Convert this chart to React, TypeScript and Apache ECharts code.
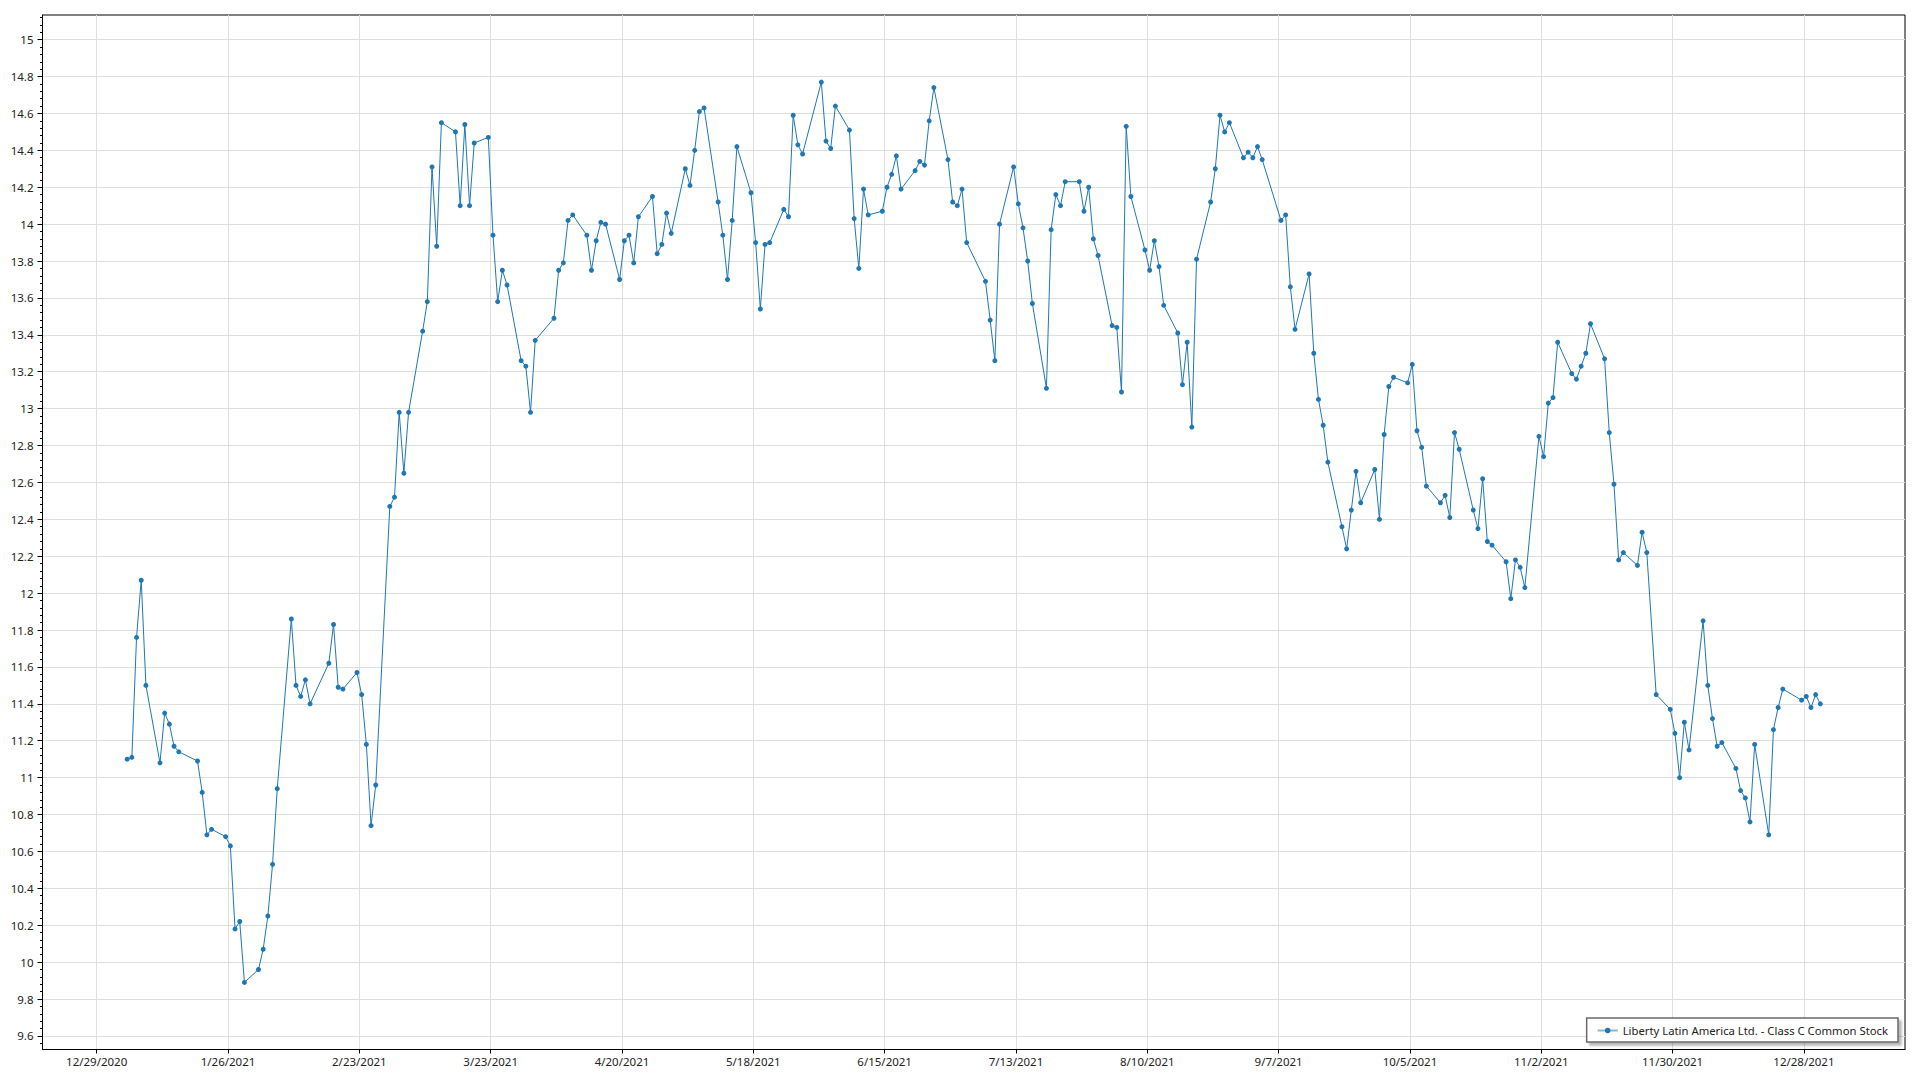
import React, { useEffect, useRef } from "react";
import * as echarts from "echarts";

const seriesName = "Liberty Latin America Ltd. - Class C Common Stock";
const dataYear = 2021;

// Trading days of 2021 (M/D)
const tradeDays: string[] = [
  // Jan
  "1/4", "1/5", "1/6", "1/7", "1/8", "1/11", "1/12", "1/13", "1/14", "1/15",
  "1/19", "1/20", "1/21", "1/22", "1/25", "1/26", "1/27", "1/28", "1/29",
  // Feb
  "2/1", "2/2", "2/3", "2/4", "2/5", "2/8", "2/9", "2/10", "2/11", "2/12",
  "2/16", "2/17", "2/18", "2/19", "2/22", "2/23", "2/24", "2/25", "2/26",
  // Mar
  "3/1", "3/2", "3/3", "3/4", "3/5", "3/8", "3/9", "3/10", "3/11", "3/12",
  "3/15", "3/16", "3/17", "3/18", "3/19", "3/22", "3/23", "3/24", "3/25", "3/26",
  "3/29", "3/30", "3/31",
  // Apr
  "4/1", "4/5", "4/6", "4/7", "4/8", "4/9", "4/12", "4/13", "4/14", "4/15", "4/16",
  "4/19", "4/20", "4/21", "4/22", "4/23", "4/26", "4/27", "4/28", "4/29", "4/30",
  // May
  "5/3", "5/4", "5/5", "5/6", "5/7", "5/10", "5/11", "5/12", "5/13", "5/14",
  "5/17", "5/18", "5/19", "5/20", "5/21", "5/24", "5/25", "5/26", "5/27", "5/28",
  // Jun
  "6/1", "6/2", "6/3", "6/4", "6/7", "6/8", "6/9", "6/10", "6/11", "6/14", "6/15",
  "6/16", "6/17", "6/18", "6/21", "6/22", "6/23", "6/24", "6/25", "6/28", "6/29", "6/30",
  // Jul
  "7/1", "7/2", "7/6", "7/7", "7/8", "7/9", "7/12", "7/13", "7/14", "7/15", "7/16",
  "7/19", "7/20", "7/21", "7/22", "7/23", "7/26", "7/27", "7/28", "7/29", "7/30",
  // Aug
  "8/2", "8/3", "8/4", "8/5", "8/6", "8/9", "8/10", "8/11", "8/12", "8/13", "8/16",
  "8/17", "8/18", "8/19", "8/20", "8/23", "8/24", "8/25", "8/26", "8/27", "8/30", "8/31",
  // Sep
  "9/1", "9/2", "9/3", "9/7", "9/8", "9/9", "9/10", "9/13", "9/14", "9/15", "9/16",
  "9/17", "9/20", "9/21", "9/22", "9/23", "9/24", "9/27", "9/28", "9/29", "9/30",
  // Oct
  "10/1", "10/4", "10/5", "10/6", "10/7", "10/8", "10/11", "10/12", "10/13", "10/14",
  "10/15", "10/18", "10/19", "10/20", "10/21", "10/22", "10/25", "10/26", "10/27",
  "10/28", "10/29",
  // Nov
  "11/1", "11/2", "11/3", "11/4", "11/5", "11/8", "11/9", "11/10", "11/11", "11/12",
  "11/15", "11/16", "11/17", "11/18", "11/19", "11/22", "11/23", "11/24", "11/26",
  "11/29", "11/30",
  // Dec
  "12/1", "12/2", "12/3", "12/6", "12/7", "12/8", "12/9", "12/10", "12/13", "12/14",
  "12/15", "12/16", "12/17", "12/20", "12/21", "12/22", "12/23", "12/27", "12/28",
  "12/29", "12/30", "12/31",
];

const closePrices: number[] = [
  // Jan
  11.10, 11.11, 11.76, 12.07, 11.50, 11.08, 11.35, 11.29, 11.17, 11.14,
  11.09, 10.92, 10.69, 10.72, 10.68, 10.63, 10.18, 10.22, 9.89,
  // Feb
  9.96, 10.07, 10.25, 10.53, 10.94, 11.86, 11.50, 11.44, 11.53, 11.40,
  11.62, 11.83, 11.49, 11.48, 11.57, 11.45, 11.18, 10.74, 10.96,
  // Mar
  12.47, 12.52, 12.98, 12.65, 12.98, 13.42, 13.58, 14.31, 13.88, 14.55,
  14.50, 14.10, 14.54, 14.10, 14.44, 14.47, 13.94, 13.58, 13.75, 13.67,
  13.26, 13.23, 12.98,
  // Apr
  13.37, 13.49, 13.75, 13.79, 14.02, 14.05, 13.94, 13.75, 13.91, 14.01, 14.00,
  13.70, 13.91, 13.94, 13.79, 14.04, 14.15, 13.84, 13.89, 14.06, 13.95,
  // May
  14.30, 14.21, 14.40, 14.61, 14.63, 14.12, 13.94, 13.70, 14.02, 14.42,
  14.17, 13.90, 13.54, 13.89, 13.90, 14.08, 14.04, 14.59, 14.43, 14.38,
  // Jun
  14.77, 14.45, 14.41, 14.64, 14.51, 14.03, 13.76, 14.19, 14.05, 14.07, 14.20,
  14.27, 14.37, 14.19, 14.29, 14.34, 14.32, 14.56, 14.74, 14.35, 14.12, 14.10,
  // Jul
  14.19, 13.90, 13.69, 13.48, 13.26, 14.00, 14.31, 14.11, 13.98, 13.80, 13.57,
  13.11, 13.97, 14.16, 14.10, 14.23, 14.23, 14.07, 14.20, 13.92, 13.83,
  // Aug
  13.45, 13.44, 13.09, 14.53, 14.15, 13.86, 13.75, 13.91, 13.77, 13.56, 13.41,
  13.13, 13.36, 12.90, 13.81, 14.12, 14.30, 14.59, 14.50, 14.55, 14.36, 14.39,
  // Sep
  14.36, 14.42, 14.35, 14.02, 14.05, 13.66, 13.43, 13.73, 13.30, 13.05, 12.91,
  12.71, 12.36, 12.24, 12.45, 12.66, 12.49, 12.67, 12.40, 12.86, 13.12,
  // Oct
  13.17, 13.14, 13.24, 12.88, 12.79, 12.58, 12.49, 12.53, 12.41, 12.87,
  12.78, 12.45, 12.35, 12.62, 12.28, 12.26, 12.17, 11.97, 12.18,
  12.14, 12.03,
  // Nov
  12.85, 12.74, 13.03, 13.06, 13.36, 13.19, 13.16, 13.23, 13.30, 13.46,
  13.27, 12.87, 12.59, 12.18, 12.22, 12.15, 12.33, 12.22, 11.45,
  11.37, 11.24,
  // Dec
  11.00, 11.30, 11.15, 11.85, 11.50, 11.32, 11.17, 11.19, 11.05, 10.93,
  10.89, 10.76, 11.18, 10.69, 11.26, 11.38, 11.48, 11.42, 11.44,
  11.38, 11.45, 11.40,
];

const xTickLabels: string[] = [
  "12/29/2020", "1/26/2021", "2/23/2021", "3/23/2021", "4/20/2021", "5/18/2021",
  "6/15/2021", "7/13/2021", "8/10/2021", "9/7/2021", "10/5/2021", "11/2/2021",
  "11/30/2021", "12/28/2021",
];

const yTickValues: number[] = [
  9.6, 9.8, 10, 10.2, 10.4, 10.6, 10.8, 11, 11.2, 11.4, 11.6, 11.8, 12,
  12.2, 12.4, 12.6, 12.8, 13, 13.2, 13.4, 13.6, 13.8, 14, 14.2, 14.4, 14.6, 14.8, 15,
];

const DAY = 86400000;
const FONT = "'Noto Sans', 'Open Sans', sans-serif";

function parseMDY(s: string): number {
  const [m, d, y] = s.split("/").map(Number);
  return Date.UTC(y, m - 1, d);
}

function fmtDate(v: number): string {
  const dt = new Date(Math.round(v));
  return `${dt.getUTCMonth() + 1}/${dt.getUTCDate()}/${dt.getUTCFullYear()}`;
}

export default function App() {
  const ref = useRef<HTMLDivElement>(null);

  useEffect(() => {
    if (!ref.current) return;
    const chart = echarts.init(ref.current, null, { renderer: "svg" });

    // points sit at mid-day of each trading date
    const points = tradeDays.map((d, i) => [
      parseMDY(`${d}/${dataYear}`) + DAY / 2,
      closePrices[i],
    ]);
    const xs = points.map((p) => p[0]);
    const ys = closePrices;
    const xMinData = Math.min(...xs);
    const xMaxData = Math.max(...xs);
    const xPad = (xMaxData - xMinData) * 0.05;
    const yMinData = Math.min(...ys);
    const yMaxData = Math.max(...ys);
    const yPad = (yMaxData - yMinData) * 0.0745;

    const xTicks = xTickLabels.map(parseMDY);

    const minorTicks: number[] = [];
    for (let i = 0; i < yTickValues.length; i++) {
      for (let k = -4; k <= 4; k++) {
        const v = Math.round((yTickValues[i] + k * 0.04) * 1000) / 1000;
        if (!minorTicks.includes(v) && !yTickValues.includes(v)) minorTicks.push(v);
      }
    }

    const yMin = yMinData - yPad;
    const yMax = yMaxData + yPad;

    chart.setOption({
      animation: false,
      backgroundColor: "#ffffff",
      textStyle: { fontFamily: FONT },
      grid: {
        left: 42.5,
        right: 15,
        top: 15,
        bottom: 30.5,
        show: true,
        borderColor: "#000000",
        borderWidth: 1,
        backgroundColor: "transparent",
      },
      legend: {
        show: true,
        right: 22,
        bottom: 38,
        orient: "horizontal",
        backgroundColor: "#ffffff",
        borderColor: "#6a6a6a",
        borderWidth: 1.5,
        borderRadius: 0,
        padding: [7, 10, 6, 10],
        itemWidth: 20,
        itemHeight: 7,
        shadowColor: "rgba(0,0,0,0.28)",
        shadowBlur: 2,
        shadowOffsetX: 3,
        shadowOffsetY: 3,
        lineStyle: { color: "rgba(31,119,180,0.55)", width: 2 },
        textStyle: { fontFamily: FONT, fontSize: 11.3, color: "#222222" },
        data: [{ name: seriesName }],
      },
      xAxis: {
        type: "value",
        min: xMinData - xPad,
        max: xMaxData + xPad,
        axisLine: { show: true, lineStyle: { color: "#000000", width: 1 } },
        axisTick: {
          show: true,
          length: 4,
          inside: false,
          customValues: xTicks,
          lineStyle: { color: "#000000", width: 1 },
        },
        axisLabel: {
          show: true,
          customValues: xTicks,
          formatter: (v: number) => fmtDate(v),
          fontFamily: FONT,
          fontSize: 11.5,
          color: "#222222",
          margin: 6,
        },
        splitLine: { show: true, lineStyle: { color: "#dedede", width: 1 } },
      },
      yAxis: [
        {
          type: "value",
          min: yMin,
          max: yMax,
          axisLine: { show: true, lineStyle: { color: "#000000", width: 1 } },
          axisTick: {
            show: true,
            length: 5,
            inside: false,
            customValues: yTickValues,
            lineStyle: { color: "#000000", width: 1 },
          },
          axisLabel: {
            show: true,
            customValues: yTickValues,
            formatter: (v: number) => String(parseFloat(v.toFixed(1))),
            fontFamily: FONT,
            fontSize: 11.5,
            color: "#222222",
            margin: 9,
          },
          splitLine: { show: true, lineStyle: { color: "#dedede", width: 1 } },
        },
        {
          type: "value",
          min: yMin,
          max: yMax,
          position: "left",
          offset: 0,
          axisLine: { show: false },
          axisTick: {
            show: true,
            length: 2.5,
            inside: false,
            customValues: minorTicks,
            lineStyle: { color: "#000000", width: 1 },
          },
          axisLabel: { show: false },
          splitLine: { show: false },
        },
      ],
      series: [
        {
          type: "line",
          name: seriesName,
          data: points,
          xAxisIndex: 0,
          yAxisIndex: 0,
          symbol: "circle",
          symbolSize: 5,
          showSymbol: true,
          showAllSymbol: true,
          lineStyle: { color: "#1f77b4", width: 1 },
          itemStyle: { color: "#1f77b4", borderWidth: 0 },
          emphasis: { disabled: true },
          silent: true,
        },
      ],
    });

    return () => {
      chart.dispose();
    };
  }, []);

  return (
    <div
      ref={ref}
      style={{
        position: "fixed",
        left: 0,
        top: 0,
        width: "1920px",
        height: "1080px",
        background: "#ffffff",
      }}
    />
  );
}
